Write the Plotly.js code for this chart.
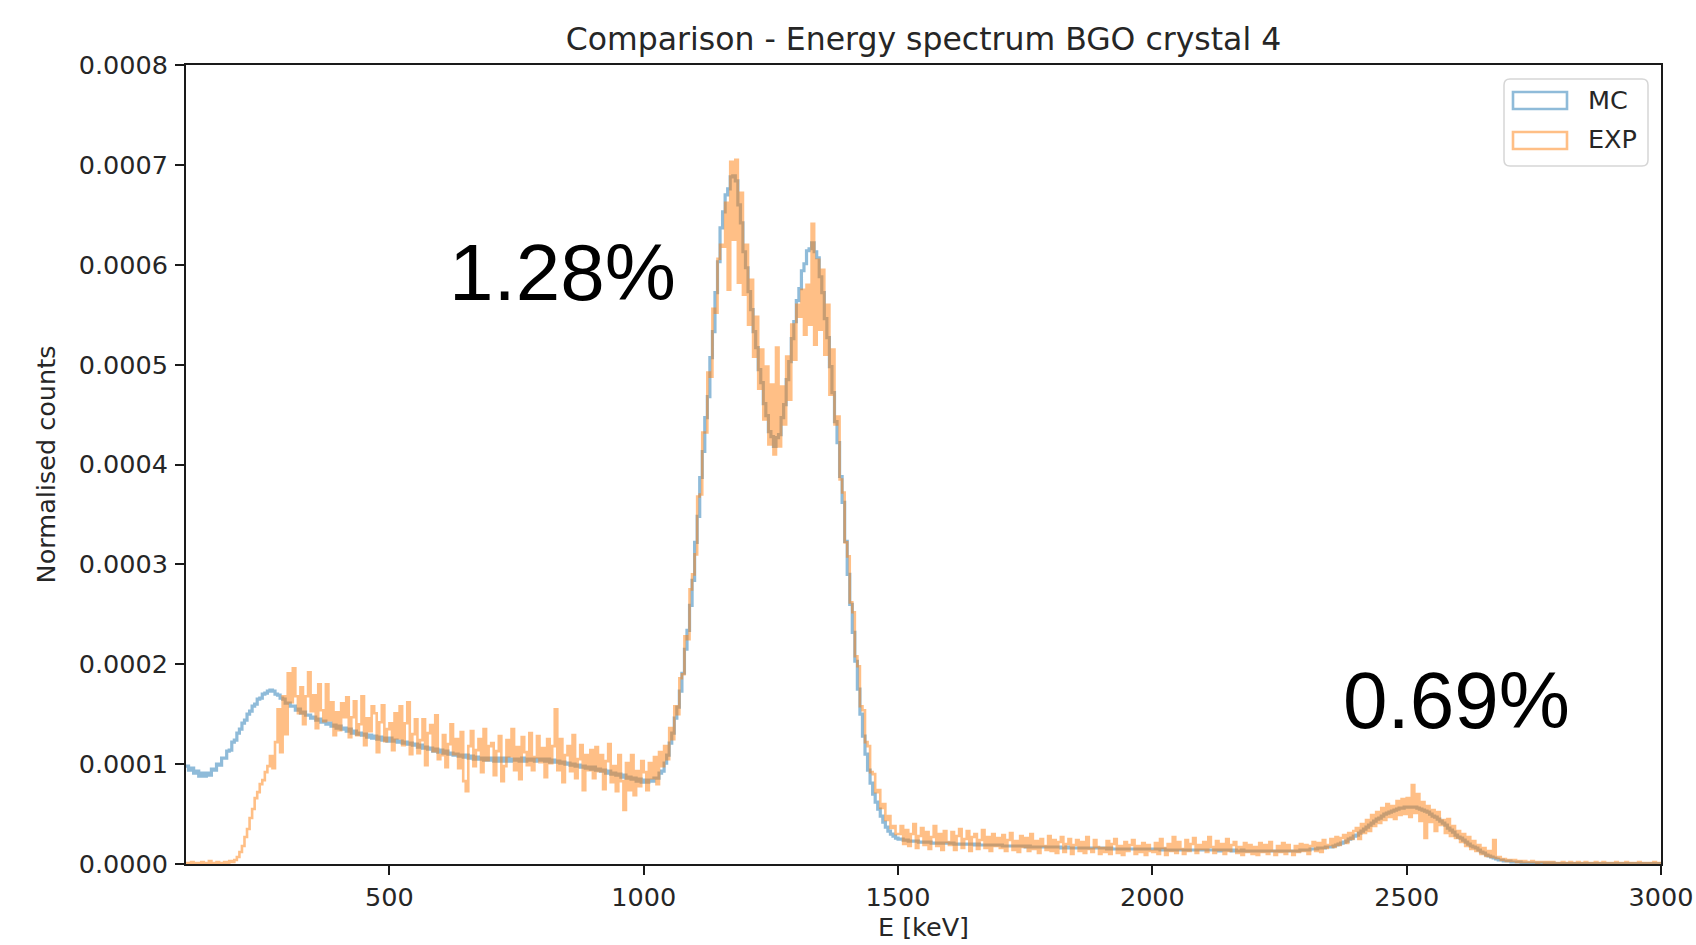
<!DOCTYPE html>
<html>
<head>
<meta charset="utf-8">
<script src="https://cdn.plot.ly/plotly-3.0.1.min.js"></script>
<style>
  html, body { margin: 0; padding: 0; background: #ffffff; }
  #chart { width: 1696px; height: 945px; }
</style>
</head>
<body>
<div id="chart"></div>
<script>
// Histogram binning of the BGO crystal 4 spectra (keV)
const BIN_START = 100;
const BIN_WIDTH = 5;
const BIN_COUNT = 580;
// Counts below are stored in units of 1e-6 (normalised counts per bin)
const COUNT_UNIT = 1e-6;

// Monte Carlo spectrum, one row per 100 keV
const mcCounts = [
  /* 100 */ 98,94,96,91,93,88,91,88,91,89,95,94,100,99,106,106,113,114,122,124,
  /* 200 */ 131,135,141,144,150,153,158,160,165,166,170,171,173,174,173,170,169,166,165,161,
  /* 300 */ 161,158,158,154,155,151,152,149,149,146,147,144,145,142,143,140,141,138,139,136,
  /* 400 */ 138,135,136,133,135,131,133,130,131,129,130,127,129,126,128,125,127,124,126,123,
  /* 500 */ 126,123,124,122,123,121,122,120,121,119,120,117,119,116,117,115,116,113,115,112,
  /* 600 */ 114,111,113,110,111,109,110,108,109,107,109,106,108,105,107,105,106,104,106,104,
  /* 700 */ 106,103,106,103,106,103,106,103,105,104,105,103,106,103,105,104,105,103,105,104,
  /* 800 */ 105,103,105,102,104,102,103,101,102,100,101,99,100,98,99,97,98,96,97,95,
  /* 900 */ 97,94,95,93,94,91,93,90,91,89,90,87,89,86,87,85,86,83,85,82,
  /*1000 */ 84,82,84,83,86,86,91,93,101,109,121,131,146,157,173,191,215,234,259,284,
  /*1100 */ 322,348,387,413,447,468,507,533,572,603,637,653,670,676,688,689,684,660,642,613,
  /*1200 */ 597,573,555,533,517,495,482,461,449,433,428,418,427,430,447,460,485,503,526,543,
  /*1300 */ 564,576,594,601,614,616,622,613,607,588,572,546,527,498,472,443,422,388,362,323,
  /*1400 */ 290,260,232,203,175,150,128,110,94,81,70,62,55,48,42,37,33,30,28,26,
  /*1500 */ 25,25,24,24,23,23,23,23,22,22,22,22,22,21,21,21,21,21,21,21,
  /*1600 */ 21,21,20,20,20,20,20,20,20,20,19,20,19,19,19,19,19,19,19,19,
  /*1700 */ 19,18,18,18,18,18,18,18,18,18,17,18,17,17,17,17,17,17,17,17,
  /*1800 */ 17,17,17,17,16,16,17,16,16,16,16,16,16,16,16,16,16,16,16,16,
  /*1900 */ 16,16,15,16,15,15,15,15,15,15,15,15,15,15,15,15,15,15,15,15,
  /*2000 */ 15,15,15,14,15,14,14,14,14,14,14,14,14,14,14,14,14,14,14,14,
  /*2100 */ 14,14,14,14,14,14,13,14,14,14,14,13,14,13,13,14,13,13,13,13,
  /*2200 */ 13,13,13,13,13,13,13,13,13,13,13,13,13,13,13,13,13,13,14,14,
  /*2300 */ 14,14,15,15,15,16,16,16,17,17,17,18,19,20,21,22,23,25,26,28,
  /*2400 */ 29,31,33,35,37,39,41,43,45,46,48,50,51,52,53,54,55,56,56,57,
  /*2500 */ 57,57,57,57,56,55,54,53,52,50,48,47,45,43,41,39,36,34,32,29,
  /*2600 */ 27,26,24,22,20,18,17,16,14,12,11,9,8,7,6,5,4,4,3,3,
  /*2700 */ 3,2,2,2,2,1,1,1,1,1,1,1,1,1,1,1,1,1,0.5,0.5,
  /*2800 */ 0.5,0.5,0.5,0.5,0.5,0.5,0.5,0.5,0.5,0.5,0.5,0.5,0.5,0.5,0.5,0.5,0.5,0.5,0.5,0.5,
  /*2900 */ 0.5,0.5,0.5,0.5,0.5,0.5,0.5,0.5,0.5,0.5,0.5,0.5,0.5,0.5,0.5,0.5,0.5,0.5,0.5,0.5
];

// Measured spectrum, one row per 100 keV
const expCounts = [
  /* 100 */ 1,0,2,1,0,1,2,0,1,3,1,0,2,1,0,2,1,3,2,4,
  /* 200 */ 7,12,18,27,35,46,55,66,72,80,84,92,98,108,96,122,155,112,168,130,
  /* 300 */ 191,162,196,168,151,177,140,168,192,153,169,136,180,154,143,180,144,162,129,152,
  /* 400 */ 134,161,147,167,127,147,163,129,140,168,119,146,133,158,151,112,142,159,123,135,
  /* 500 */ 141,114,151,126,158,119,141,162,110,130,145,111,124,145,99,131,139,113,149,105,
  /* 600 */ 109,129,97,120,140,110,125,96,132,83,73,118,133,98,114,125,92,135,104,118,
  /* 700 */ 121,89,113,128,83,98,124,108,135,94,117,85,127,112,99,131,94,107,128,102,
  /* 800 */ 116,87,125,101,118,155,94,125,82,109,118,93,129,86,105,119,74,109,94,114,
  /* 900 */ 86,117,93,109,75,103,120,82,98,73,109,83,54,101,74,109,69,93,78,103,
  /*1000 */ 92,74,101,86,107,80,112,98,118,105,136,125,158,150,186,190,228,225,275,290,
  /*1100 */ 310,368,370,432,432,492,488,556,552,606,620,618,662,575,703,625,705,582,672,570,
  /*1200 */ 620,540,585,508,548,476,515,445,498,420,480,410,517,418,478,440,508,465,540,505,
  /*1300 */ 560,548,575,530,580,540,641,520,605,535,595,510,560,470,515,440,448,385,372,322,
  /*1400 */ 308,262,252,208,198,158,154,122,118,92,90,72,74,56,60,44,48,36,38,30,
  /*1500 */ 30,38,20,34,18,30,40,16,28,36,19,32,15,27,38,18,30,14,33,22,
  /*1600 */ 19,32,14,28,35,16,25,33,13,27,30,15,24,34,16,27,13,30,18,26,
  /*1700 */ 16,29,13,24,31,14,23,12,28,17,26,13,30,15,23,11,25,18,14,28,
  /*1800 */ 13,24,11,22,27,12,20,25,10,19,24,13,22,11,27,15,12,24,17,10,
  /*1900 */ 16,12,23,10,20,25,11,18,9,22,13,19,24,10,18,12,21,9,19,13,
  /*2000 */ 12,21,10,25,16,9,20,13,27,11,22,15,10,24,13,20,26,11,19,15,
  /*2100 */ 22,12,27,17,11,23,14,20,10,25,13,19,22,11,17,9,21,12,19,10,
  /*2200 */ 17,9,21,12,19,10,22,13,9,18,12,21,10,19,13,9,18,12,20,13,
  /*2300 */ 19,10,18,22,13,21,12,24,16,19,25,17,27,19,26,29,21,31,25,33,
  /*2400 */ 36,25,40,31,44,33,49,38,52,41,56,44,60,47,58,45,63,49,65,50,
  /*2500 */ 66,47,79,51,70,43,62,26,58,42,54,33,52,39,44,31,45,28,38,26,
  /*2600 */ 33,22,30,18,27,15,23,13,19,10,16,8,13,7,24,6,7,4,5,3,
  /*2700 */ 4,3,4,2,3,2,3,2,2,3,2,1,2,2,1,2,1,2,1,1,
  /*2800 */ 1,2,1,1,2,1,1,2,1,1,2,1,1,1,2,1,1,2,1,1,
  /*2900 */ 1,1,2,1,1,1,2,1,1,1,1,2,1,1,1,1,1,2,1,1
];

const seriesNames = ['MC', 'EXP'];
const xTickVals = [500, 1000, 1500, 2000, 2500, 3000];
const yTickVals = [0, 0.0001, 0.0002, 0.0003, 0.0004, 0.0005, 0.0006, 0.0007, 0.0008];
const resolutionLabels = ['1.28%', '0.69%'];

if (mcCounts.length !== BIN_COUNT || expCounts.length !== BIN_COUNT) {
  throw new Error('bin count mismatch: ' + mcCounts.length + ' / ' + expCounts.length);
}

// Outline of a step histogram; the low edge sits on the axis, the high edge falls to zero
function stepOutline(counts) {
  const x = [];
  const y = [];
  counts.forEach((c, i) => {
    x.push(BIN_START + i * BIN_WIDTH);
    y.push(c * COUNT_UNIT);
  });
  const end = BIN_START + counts.length * BIN_WIDTH;
  x.push(end); y.push(counts[counts.length - 1] * COUNT_UNIT);
  x.push(end); y.push(0);
  return { x, y };
}

const MC_LINE = 'rgba(31,119,180,0.5)';
const EXP_LINE = 'rgba(255,127,14,0.5)';
const FONT = 'DejaVu Sans, Verdana, sans-serif';
const TEXT_COLOR = '#262626';

const mcStep = stepOutline(mcCounts);
const expStep = stepOutline(expCounts);

const traces = [
  { type: 'scatter', mode: 'lines', name: seriesNames[0], x: mcStep.x, y: mcStep.y,
    line: { shape: 'hv', color: MC_LINE, width: 3.2 }, showlegend: false, hoverinfo: 'skip' },
  { type: 'scatter', mode: 'lines', name: seriesNames[1], x: expStep.x, y: expStep.y,
    line: { shape: 'hv', color: EXP_LINE, width: 2.6 }, showlegend: false, hoverinfo: 'skip' }
];

// Plot-area geometry in pixels, used to place the overlay labels and legend box
const W = 1696, H = 945;
const M = { l: 186, r: 35, t: 65, b: 81 };
const PW = W - M.l - M.r, PH = H - M.t - M.b;
const px = v => (v - M.l) / PW;
const py = v => (H - M.b - v) / PH;

// Legend frame with slightly rounded corners
function roundedRect(x0, y0, x1, y1, r) {
  const rx = r / PW, ry = r / PH;
  const X0 = px(x0), X1 = px(x1), Y0 = py(y1), Y1 = py(y0);
  return `M ${X0 + rx},${Y0} L ${X1 - rx},${Y0} Q ${X1},${Y0} ${X1},${Y0 + ry} ` +
         `L ${X1},${Y1 - ry} Q ${X1},${Y1} ${X1 - rx},${Y1} L ${X0 + rx},${Y1} ` +
         `Q ${X0},${Y1} ${X0},${Y1 - ry} L ${X0},${Y0 + ry} Q ${X0},${Y0} ${X0 + rx},${Y0} Z`;
}

const shapes = [
  { type: 'path', xref: 'paper', yref: 'paper', path: roundedRect(1504, 79, 1648, 166, 6),
    fillcolor: 'rgba(255,255,255,0.8)', line: { color: '#d6d6d6', width: 1.5 }, layer: 'above' },
  { type: 'rect', xref: 'paper', yref: 'paper', x0: px(1513), x1: px(1567), y0: py(109), y1: py(92),
    fillcolor: 'rgba(0,0,0,0)', line: { color: MC_LINE, width: 2.6 }, layer: 'above' },
  { type: 'rect', xref: 'paper', yref: 'paper', x0: px(1513), x1: px(1567), y0: py(149), y1: py(132),
    fillcolor: 'rgba(0,0,0,0)', line: { color: EXP_LINE, width: 2.6 }, layer: 'above' }
];

const annotations = [
  { xref: 'paper', yref: 'paper', x: px(1586), y: py(100), text: seriesNames[0], showarrow: false,
    xanchor: 'left', yanchor: 'middle', font: { family: FONT, size: 25.5, color: TEXT_COLOR } },
  { xref: 'paper', yref: 'paper', x: px(1586), y: py(139), text: seriesNames[1], showarrow: false,
    xanchor: 'left', yanchor: 'middle', font: { family: FONT, size: 25.5, color: TEXT_COLOR } },
  { xref: 'paper', yref: 'paper', x: px(562), y: py(272), text: resolutionLabels[0], showarrow: false,
    xanchor: 'center', yanchor: 'middle', font: { family: 'Liberation Sans, Arial, sans-serif', size: 80, color: '#000000' } },
  { xref: 'paper', yref: 'paper', x: px(1456), y: py(700), text: resolutionLabels[1], showarrow: false,
    xanchor: 'center', yanchor: 'middle', font: { family: 'Liberation Sans, Arial, sans-serif', size: 80, color: '#000000' } }
];

const axisCommon = {
  showgrid: false, zeroline: false, showline: true, mirror: true,
  linecolor: '#1a1a1a', linewidth: 2,
  ticks: 'outside', ticklen: 9, tickwidth: 2, tickcolor: '#1a1a1a',
  tickfont: { family: FONT, size: 25.5, color: TEXT_COLOR }
};

const layout = {
  width: W, height: H,
  margin: M,
  paper_bgcolor: '#ffffff', plot_bgcolor: '#ffffff',
  title: {
    text: 'Comparison - Energy spectrum BGO crystal 4',
    font: { family: FONT, size: 31.5, color: TEXT_COLOR },
    x: 0.5, xref: 'paper', xanchor: 'center',
    y: 1 - 39 / H, yref: 'container', yanchor: 'middle'
  },
  xaxis: Object.assign({}, axisCommon, {
    range: [100, 3000],
    tickmode: 'array', tickvals: xTickVals, ticktext: xTickVals.map(String),
    title: { text: 'E [keV]', font: { family: FONT, size: 25.5, color: TEXT_COLOR }, standoff: 8 }
  }),
  yaxis: Object.assign({}, axisCommon, {
    range: [0, 0.0008],
    tickmode: 'array', tickvals: yTickVals, ticktext: yTickVals.map(v => v.toFixed(4)),
    ticklabelstandoff: 2,
    title: { text: 'Normalised counts', font: { family: FONT, size: 25.5, color: TEXT_COLOR }, standoff: 16 }
  }),
  shapes: shapes,
  annotations: annotations,
  showlegend: false
};

Plotly.newPlot('chart', traces, layout, { displayModeBar: false, staticPlot: true });
</script>
</body>
</html>
